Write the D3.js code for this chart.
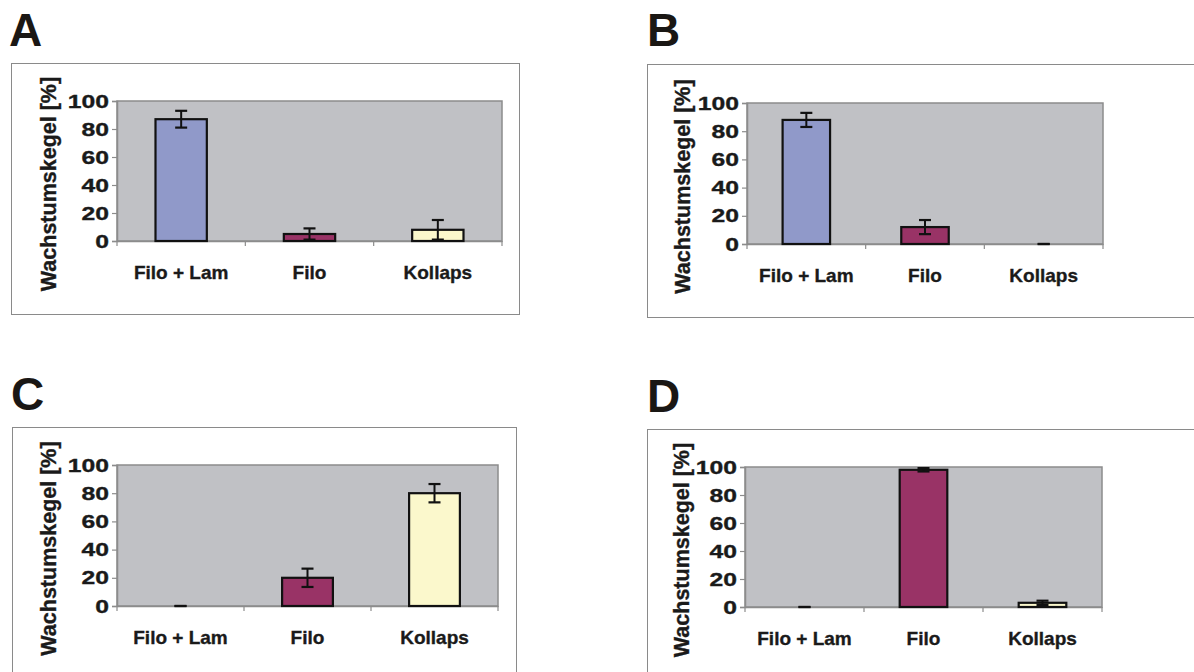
<!DOCTYPE html>
<html>
<head>
<meta charset="utf-8">
<script src="https://cdn.jsdelivr.net/npm/d3@7"></script>
<style>
  body { margin: 0; background: #fff; }
  svg { display: block; font-family: "Liberation Sans", Arial, sans-serif; }
  .lbl { stroke: #1a1a1a; stroke-width: 0.35px; }
</style>
</head>
<body>
<svg id="fig" width="1194" height="672"></svg>
<script>
// categories shared by all four panels
var categories = ["Filo + Lam", "Filo", "Kollaps"];
var yTicks = [0, 20, 40, 60, 80, 100];
var panelLetters = ["A", "B", "C", "D"];

// mean values and error (+/-) per panel, in %
var meansA = [87, 5, 8];
var errorsA = [6, 4, 7];
var meansB = [88, 12, 0];
var errorsB = [5, 5, 0];
var meansC = [0, 20, 80];
var errorsC = [0, 6.5, 6.5];
var meansD = [0, 98, 3];
var errorsD = [0, 1.2, 1.5];

var barColors = ["#9099c9", "#993366", "#fbf8cc"];

// layout of each panel (box = outer frame, plot = plot area)
var layout = [
    { letter: [9, 46],   box: [11, 63, 508, 251],   plot: [117, 101, 385, 140], title: 49 },
    { letter: [647, 46], box: [647, 64, 560, 253],  plot: [747, 103, 356, 141], title: 683 },
    { letter: [11, 410], box: [12, 427, 504, 260],  plot: [117, 465, 381, 141], title: 49 },
    { letter: [647, 412], box: [647, 429, 560, 260], plot: [745, 467, 357, 140], title: 682 }
];

var allMeans = [meansA, meansB, meansC, meansD];
var allErrors = [errorsA, errorsB, errorsC, errorsD];

var svg = d3.select("#fig");

function drawPanel(i) {
    var L = layout[i];
    var means = allMeans[i], errs = allErrors[i];
    var px = L.plot[0], py = L.plot[1], pw = L.plot[2], ph = L.plot[3];

    var g = svg.append("g");

    // outer frame
    g.append("rect")
        .attr("x", L.box[0] + 0.5).attr("y", L.box[1] + 0.5)
        .attr("width", L.box[2]).attr("height", L.box[3])
        .attr("fill", "none").attr("stroke", "#8a8a8a").attr("stroke-width", 1);

    // panel letter
    g.append("text")
        .attr("x", L.letter[0]).attr("y", L.letter[1])
        .attr("font-size", 46).attr("font-weight", "bold").attr("fill", "#1a1714")
        .text(panelLetters[i]);

    var x = d3.scaleBand().domain(categories).range([px, px + pw])
        .paddingInner(0.6).paddingOuter(0.3);
    var y = d3.scaleLinear().domain([0, 100]).range([py + ph, py]);

    // plot area
    g.append("rect")
        .attr("x", px).attr("y", py).attr("width", pw).attr("height", ph)
        .attr("fill", "#c0c1c5").attr("stroke", "#8c8c8c").attr("stroke-width", 1.5);

    // y axis
    var yAxis = g.append("g")
        .attr("transform", "translate(" + px + ",0)")
        .call(d3.axisLeft(y).tickValues(yTicks).tickSize(5).tickPadding(6));
    yAxis.select(".domain").attr("stroke", "#8c8c8c").attr("stroke-width", 1.5);
    yAxis.selectAll(".tick line").attr("stroke", "#8c8c8c").attr("stroke-width", 1.2);
    yAxis.selectAll(".tick text")
        .attr("x", null)
        .attr("class", "lbl")
        .attr("transform", "translate(-8,0) scale(1.3,1)")
        .attr("font-size", 19).attr("font-weight", "bold").attr("fill", "#1a1a1a")
        .attr("font-family", "Liberation Sans, Arial, sans-serif");

    // x axis with category labels
    var xAxis = g.append("g")
        .attr("transform", "translate(0," + (py + ph) + ")")
        .call(d3.axisBottom(x).tickSize(0).tickPadding(25));
    xAxis.select(".domain").attr("stroke", "#8c8c8c").attr("stroke-width", 1.5);
    xAxis.selectAll(".tick text")
        .attr("class", "lbl")
        .attr("font-size", 19).attr("font-weight", "bold").attr("fill", "#1a1a1a")
        .attr("font-family", "Liberation Sans, Arial, sans-serif");

    // tick marks at category boundaries
    var bounds = categories.map(function (c) { return x(c) - x.step() * 0.3; });
    bounds.push(px + pw);
    g.selectAll(".xb").data(bounds).enter().append("line")
        .attr("x1", function (d) { return d; }).attr("x2", function (d) { return d; })
        .attr("y1", py + ph).attr("y2", py + ph + 5)
        .attr("stroke", "#8c8c8c").attr("stroke-width", 1.2);

    // bars
    g.selectAll(".bar").data(means).enter().append("rect")
        .attr("x", function (d, j) { return x(categories[j]); })
        .attr("y", function (d) { return y(d); })
        .attr("width", x.bandwidth())
        .attr("height", function (d) { return y(0) - y(d); })
        .attr("fill", function (d, j) { return barColors[j]; })
        .attr("stroke", "#111").attr("stroke-width", function (d) { return d > 0 ? 2.2 : 0; });

    // error bars
    var cap = 6;
    var eb = g.selectAll(".err").data(means).enter().append("g");
    eb.append("line")
        .attr("x1", function (d, j) { return x(categories[j]) + x.bandwidth() / 2; })
        .attr("x2", function (d, j) { return x(categories[j]) + x.bandwidth() / 2; })
        .attr("y1", function (d, j) { return y(d + errs[j]); })
        .attr("y2", function (d, j) { return y(Math.max(0, d - errs[j])); })
        .attr("stroke", "#111").attr("stroke-width", 2);
    [1, -1].forEach(function (s) {
        eb.append("line")
            .attr("x1", function (d, j) { return x(categories[j]) + x.bandwidth() / 2 - cap; })
            .attr("x2", function (d, j) { return x(categories[j]) + x.bandwidth() / 2 + cap; })
            .attr("y1", function (d, j) { return y(Math.max(0, d + s * errs[j])); })
            .attr("y2", function (d, j) { return y(Math.max(0, d + s * errs[j])); })
            .attr("stroke", "#111").attr("stroke-width", 2.2);
    });

    // y axis title
    g.append("text")
        .attr("class", "lbl")
        .attr("transform", "translate(" + (L.title + 7) + "," + (py + ph / 2 + 13) + ") rotate(-90)")
        .attr("text-anchor", "middle")
        .attr("font-size", 21.5).attr("font-weight", "bold").attr("fill", "#1a1a1a")
        .text("Wachstumskegel [%]");
}

for (var i = 0; i < 4; i++) drawPanel(i);
</script>
</body>
</html>
